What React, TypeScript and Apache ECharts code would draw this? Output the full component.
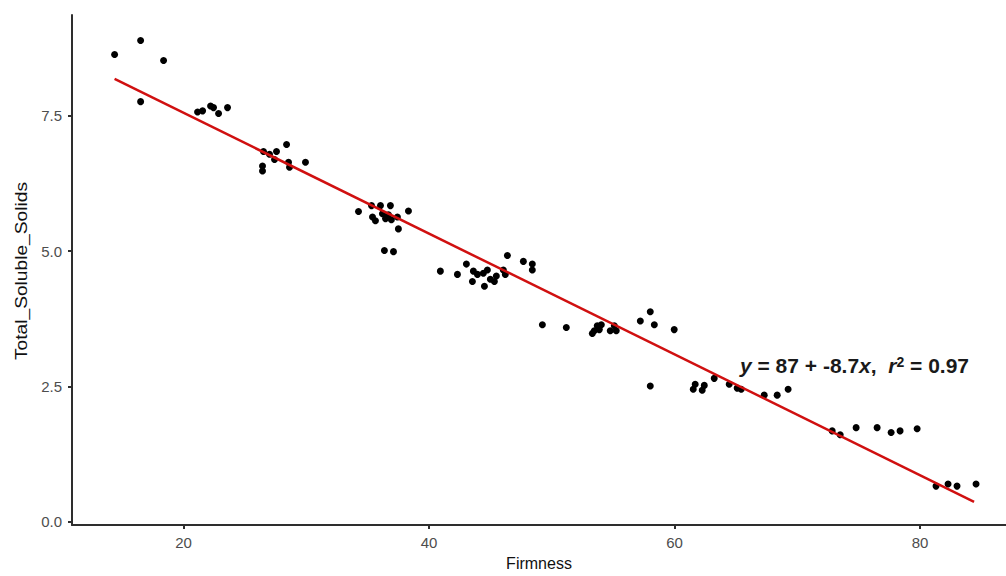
import React, { useEffect, useRef } from "react";
import * as echarts from "echarts";

const firmness = [
  14.38, 16.5, 18.37, 16.5,
  21.14, 21.55, 22.2, 22.44, 22.85, 23.58,
  26.43, 26.43, 26.51, 27.0, 27.41, 27.57, 28.39, 28.55, 28.63, 29.93,
  34.25, 35.31, 36.04, 36.85, 38.32, 35.39, 35.63, 36.2, 36.45, 36.69, 36.93, 37.42, 37.5, 36.36, 37.1,
  40.92, 42.31, 43.04, 43.61, 43.94, 44.42, 44.75, 43.53, 44.51, 44.99, 45.32, 45.48, 46.05, 46.21, 46.38, 47.68, 48.41, 48.41,
  49.23, 51.18, 53.3, 53.46, 53.7, 54.03, 53.87, 54.76, 55.09, 55.25, 57.21, 58.02, 58.35, 59.97, 58.02,
  61.52, 61.68, 62.25, 62.42, 63.23, 64.45, 65.1, 65.43, 67.3, 68.36, 69.25,
  72.84, 73.49, 74.79, 76.5, 77.64, 78.37, 79.76, 81.3, 82.28, 83.01, 84.56,
];

const totalSolubleSolids = [
  8.63, 8.89, 8.52, 7.76,
  7.57, 7.59, 7.68, 7.65, 7.54, 7.65,
  6.57, 6.48, 6.84, 6.79, 6.69, 6.84, 6.97, 6.64, 6.55, 6.64,
  5.73, 5.84, 5.84, 5.84, 5.74, 5.63, 5.56, 5.69, 5.6, 5.67, 5.58, 5.63, 5.41, 5.01, 4.99,
  4.63, 4.57, 4.76, 4.63, 4.57, 4.59, 4.65, 4.44, 4.35, 4.48, 4.44, 4.54, 4.65, 4.57, 4.92, 4.81, 4.76, 4.65,
  3.64, 3.59, 3.48, 3.53, 3.62, 3.64, 3.55, 3.53, 3.62, 3.53, 3.71, 3.88, 3.64, 3.55, 2.51,
  2.45, 2.54, 2.43, 2.52, 2.65, 2.54, 2.47, 2.45, 2.34, 2.34, 2.45,
  1.68, 1.61, 1.74, 1.74, 1.65, 1.68, 1.72, 0.66, 0.7, 0.66, 0.7,
];

const fitFirmness = [14.38, 84.4];
const fitTss = [8.18, 0.37];

const xTicks = [20, 40, 60, 80];
const yTicks = [0, 2.5, 5, 7.5];
const xRange = [10.91, 87.0];
const yRange = [-0.06, 9.36];

const xTitle = "Firmness";
const yTitle = "Total_Soluble_Solids";

const FONT = "'Liberation Sans', Arial, sans-serif";

export default function App() {
  const ref = useRef<HTMLDivElement>(null);

  useEffect(() => {
    if (!ref.current) return;
    const chart = echarts.init(ref.current, null, { renderer: "svg" });
    const points = firmness.map((x, i) => [x, totalSolubleSolids[i]]);
    const fit = fitFirmness.map((x, i) => [x, fitTss[i]]);
    const axisLineStyle = { color: "#2e2e2e", width: 2 };
    chart.setOption({
      animation: false,
      backgroundColor: "#ffffff",
      textStyle: { fontFamily: FONT },
      grid: { left: 72, right: 0, top: 15, bottom: 46, containLabel: false },
      xAxis: {
        type: "value",
        min: xRange[0],
        max: xRange[1],
        name: xTitle,
        nameLocation: "middle",
        nameGap: 29,
        nameTextStyle: { fontSize: 16, color: "#111111", fontFamily: FONT },
        axisLine: { show: true, onZero: false, lineStyle: axisLineStyle },
        axisTick: { show: true, length: 4, customValues: xTicks, lineStyle: axisLineStyle },
        axisLabel: {
          customValues: xTicks,
          fontSize: 15,
          color: "#4d4d4d",
          margin: 10,
          fontFamily: FONT,
          formatter: (v: number) => String(v),
        },
        splitLine: { show: false },
      },
      yAxis: {
        type: "value",
        min: yRange[0],
        max: yRange[1],
        axisLine: { show: true, onZero: false, lineStyle: axisLineStyle },
        axisTick: { show: true, length: 4, customValues: yTicks, lineStyle: axisLineStyle },
        axisLabel: {
          customValues: yTicks,
          fontSize: 15,
          color: "#4d4d4d",
          margin: 10,
          fontFamily: FONT,
          formatter: (v: number) => v.toFixed(1),
        },
        splitLine: { show: false },
      },
      series: [
        {
          type: "scatter",
          data: points,
          symbol: "circle",
          symbolSize: 7,
          itemStyle: { color: "#000000", opacity: 1 },
          z: 2,
        },
        {
          type: "line",
          data: fit,
          symbol: "none",
          lineStyle: { color: "#d01010", width: 2.5 },
          z: 3,
        },
      ],
      graphic: [
        {
          type: "text",
          x: 22,
          y: 271,
          rotation: Math.PI / 2,
          scaleX: 1.2,
          z: 10,
          style: {
            text: yTitle,
            fontSize: 16,
            fontFamily: FONT,
            fill: "#111111",
            align: "center",
            verticalAlign: "middle",
          },
        },
        {
          type: "text",
          left: 740,
          top: 355,
          z: 10,
          style: {
            text: "{i|y} = 87 + -8.7{i|x},  {i|r}{s|2} = 0.97",
            fontSize: 21,
            fontWeight: "bold",
            fontFamily: FONT,
            fill: "#1a1a1a",
            rich: {
              i: { fontStyle: "italic", fontWeight: "bold", fontSize: 21, fontFamily: FONT, fill: "#1a1a1a" },
              s: { fontWeight: "bold", fontSize: 14, fontFamily: FONT, fill: "#1a1a1a", verticalAlign: "top" },
            },
          },
        },
      ],
    });
    return () => chart.dispose();
  }, []);

  return (
    <div
      ref={ref}
      style={{ position: "fixed", left: 0, top: 0, width: 1006, height: 576, background: "#ffffff" }}
    />
  );
}
